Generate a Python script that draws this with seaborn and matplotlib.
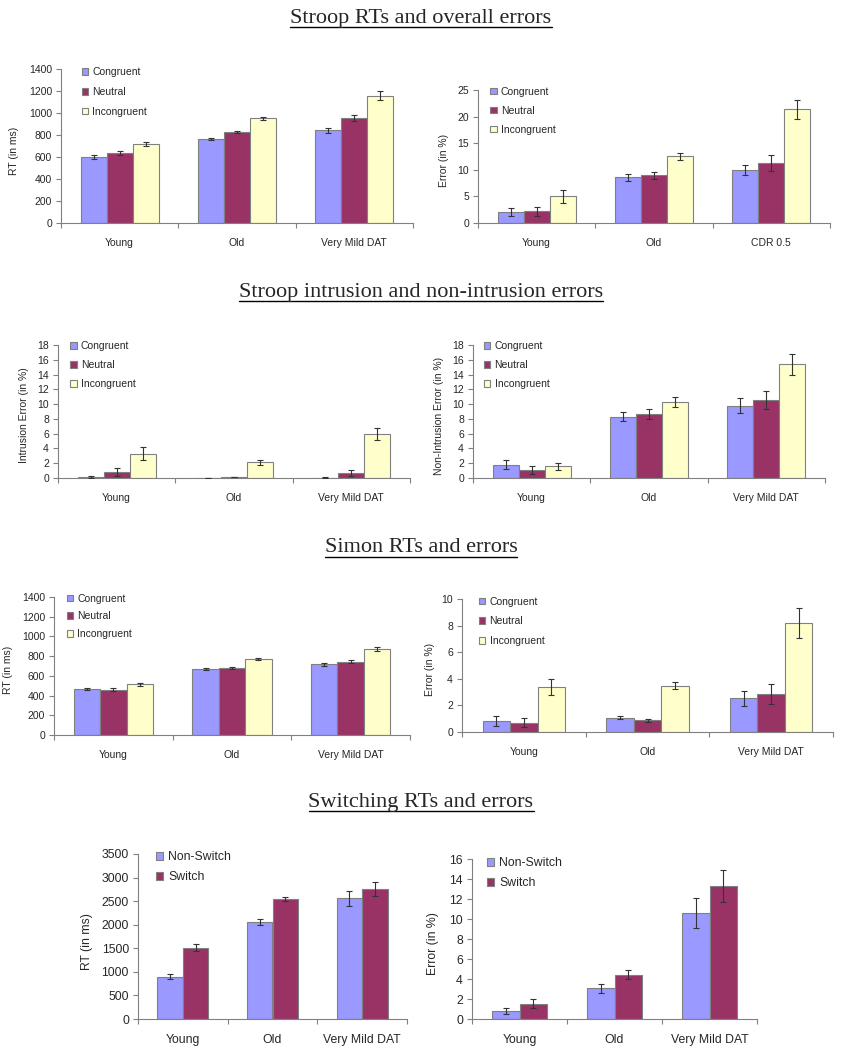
import matplotlib
matplotlib.use("Agg")
import matplotlib.pyplot as plt
import seaborn as sns
import pandas as pd
from matplotlib.lines import Line2D

sns.set_style("white")
plt.rcParams['font.family'] = ['Liberation Sans', 'DejaVu Sans']

# ---------------- data ----------------
groups = ["Young", "Old", "Very Mild DAT"]
groups_cdr = ["Young", "Old", "CDR 0.5"]
conds3 = ["Congruent", "Neutral", "Incongruent"]
conds2 = ["Non-Switch", "Switch"]

stroop_rt = [[599, 762, 843], [635, 828, 958], [717, 952, 1158]]
stroop_rt_err = [[18, 12, 22], [18, 10, 28], [20, 12, 40]]

stroop_err = [[2.06, 8.56, 9.94], [2.25, 8.94, 11.25], [5.0, 12.5, 21.4]]
stroop_err_err = [[0.7, 0.7, 1.0], [0.85, 0.7, 1.5], [1.25, 0.7, 1.8]]

intrusion = [[0.14, 0.03, 0.05], [0.86, 0.13, 0.72], [3.3, 2.1, 5.97]]
intrusion_err = [[0.1, 0.02, 0.03], [0.55, 0.05, 0.4], [0.9, 0.3, 0.85]]

nonintrusion = [[1.81, 8.32, 9.77], [1.13, 8.68, 10.54], [1.58, 10.31, 15.38]]
nonintrusion_err = [[0.65, 0.65, 1.0], [0.55, 0.65, 1.2], [0.45, 0.65, 1.4]]

simon_rt = [[467, 670, 717], [460, 676, 744], [514, 771, 872]]
simon_rt_err = [[12, 12, 12], [15, 10, 18], [18, 15, 22]]

simon_err = [[0.83, 1.08, 2.52], [0.71, 0.88, 2.85], [3.38, 3.48, 8.19]]
simon_err_err = [[0.35, 0.12, 0.6], [0.33, 0.11, 0.73], [0.6, 0.25, 1.12]]

switch_rt = [[893, 2055, 2565], [1516, 2544, 2749]]
switch_rt_err = [[53, 67, 160], [74, 50, 150]]

switch_err = [[0.83, 3.07, 10.6], [1.53, 4.43, 13.27]]
switch_err_err = [[0.28, 0.47, 1.53], [0.43, 0.47, 1.6]]

titles = ["Stroop RTs and overall errors",
          "Stroop intrusion and non-intrusion errors",
          "Simon RTs and errors",
          "Switching RTs and errors"]

colors3 = ["#9999FF", "#993366", "#FFFFCC"]
colors2 = ["#9999FF", "#993366"]

# ---------------- layout ----------------
W, H = 842, 1050
fig = plt.figure(figsize=(W / 100, H / 100), dpi=100)


def add_ax(l, t, r, b):
    return fig.add_axes([l / W, 1 - b / H, (r - l) / W, (b - t) / H])


GRAY = "#808080"


def panel(box, cats, conds, vals, errs, colors, ylim, ystep, ylabel, ylabel_x,
          fs=7.5, leg_anchor=(0.05, 1.04), labelspacing=0.95):
    ax = add_ax(*box)
    rows = []
    for ci, c in enumerate(conds):
        for gi, g in enumerate(cats):
            rows.append({"group": g, "cond": c, "value": vals[ci][gi]})
    df = pd.DataFrame(rows)
    width = len(conds) / (len(conds) + 1.5)
    sns.barplot(data=df, x="group", y="value", hue="cond", order=cats,
                hue_order=conds, palette=colors, width=width, errorbar=None,
                edgecolor=GRAY, linewidth=0.8, saturation=1, ax=ax)
    bar_containers = list(ax.containers)
    for ci, cont in enumerate(bar_containers):
        xs = [b.get_x() + b.get_width() / 2 for b in cont]
        ys = [b.get_height() for b in cont]
        ax.errorbar(xs, ys, yerr=errs[ci], fmt="none", ecolor="#333333",
                    elinewidth=0.8, capsize=2.2, capthick=0.8, zorder=5)
    ax.set_xlim(-0.5, len(cats) - 0.5)
    ax.set_ylim(*ylim)
    ax.set_yticks(list(range(ylim[0], ylim[1] + 1, ystep)))
    ax.set_xticks(range(len(cats)))
    ax.set_xticklabels(cats)
    ax.set_xticks([i - 0.5 for i in range(len(cats) + 1)], minor=True)
    ax.tick_params(axis="x", which="major", length=0, pad=11, labelsize=fs)
    ax.tick_params(axis="x", which="minor", length=3.5, width=0.8,
                   color=GRAY, direction="out", bottom=True)
    ax.tick_params(axis="y", which="major", length=3.5, width=0.8,
                   color=GRAY, direction="out", left=True, pad=3,
                   labelsize=fs)
    for s in ["top", "right"]:
        ax.spines[s].set_visible(False)
    for s in ["left", "bottom"]:
        ax.spines[s].set_color(GRAY)
        ax.spines[s].set_linewidth(0.8)
    ax.set_xlabel("")
    ax.set_ylabel(ylabel, fontsize=fs, labelpad=0)
    l, t, r, b = box
    ax.yaxis.set_label_coords((ylabel_x + 6 - l) / (r - l), 0.47)
    handles, labels = ax.get_legend_handles_labels()
    ax.legend(handles, labels, loc="upper left", bbox_to_anchor=leg_anchor,
              frameon=False, fontsize=fs, handlelength=0.6,
              handleheight=0.6, handletextpad=0.4,
              labelspacing=labelspacing, borderaxespad=0)
    return ax


panel((61, 69, 413, 223), groups, conds3, stroop_rt, stroop_rt_err, colors3,
      (0, 1400), 200, "RT (in ms)", 13, leg_anchor=(0.048, 1.04))
panel((478, 90, 830, 223), groups_cdr, conds3, stroop_err, stroop_err_err,
      colors3, (0, 25), 5, "Error (in %)", 443, leg_anchor=(0.023, 1.055),
      labelspacing=0.85)
panel((58, 345, 410, 478), groups, conds3, intrusion, intrusion_err, colors3,
      (0, 18), 2, "Intrusion Error (in %)", 23, leg_anchor=(0.023, 1.06),
      labelspacing=0.85)
panel((473, 345, 825, 478), groups, conds3, nonintrusion, nonintrusion_err,
      colors3, (0, 18), 2, "Non-Intrusion Error (in %)", 438,
      leg_anchor=(0.02, 1.06), labelspacing=0.85)
panel((54, 597, 410, 735), groups, conds3, simon_rt, simon_rt_err, colors3,
      (0, 1400), 200, "RT (in ms)", 7, leg_anchor=(0.025, 1.055),
      labelspacing=0.75)
panel((462, 599, 833, 732), groups, conds3, simon_err, simon_err_err, colors3,
      (0, 10), 2, "Error (in %)", 429, leg_anchor=(0.035, 1.05),
      labelspacing=0.95)
panel((138, 854, 407, 1019), groups, conds2, switch_rt, switch_rt_err, colors2,
      (0, 3500), 500, "RT (in ms)", 87, fs=8.8, leg_anchor=(0.048, 1.045),
      labelspacing=0.65)
panel((472, 859, 757, 1019), groups, conds2, switch_err, switch_err_err,
      colors2, (0, 16), 2, "Error (in %)", 433, fs=8.8,
      leg_anchor=(0.035, 1.04), labelspacing=0.65)

# ---------------- section titles (underlined) ----------------
title_y = [18, 292, 548, 802]
texts = []
for t, y in zip(titles, title_y):
    texts.append(fig.text(0.5, 1 - y / H, t, ha="center", va="center",
                          fontsize=16, family=["Liberation Serif",
                                               "DejaVu Serif"]))
fig.canvas.draw()
renderer = fig.canvas.get_renderer()
for txt in texts:
    bb = txt.get_window_extent(renderer=renderer)
    x0, x1 = bb.x0 / W, bb.x1 / W
    yl = (bb.y0 + 1) / H
    fig.add_artist(Line2D([x0, x1], [yl, yl], transform=fig.transFigure,
                          color="black", linewidth=1.0))

fig.savefig("out.png", dpi=100)
